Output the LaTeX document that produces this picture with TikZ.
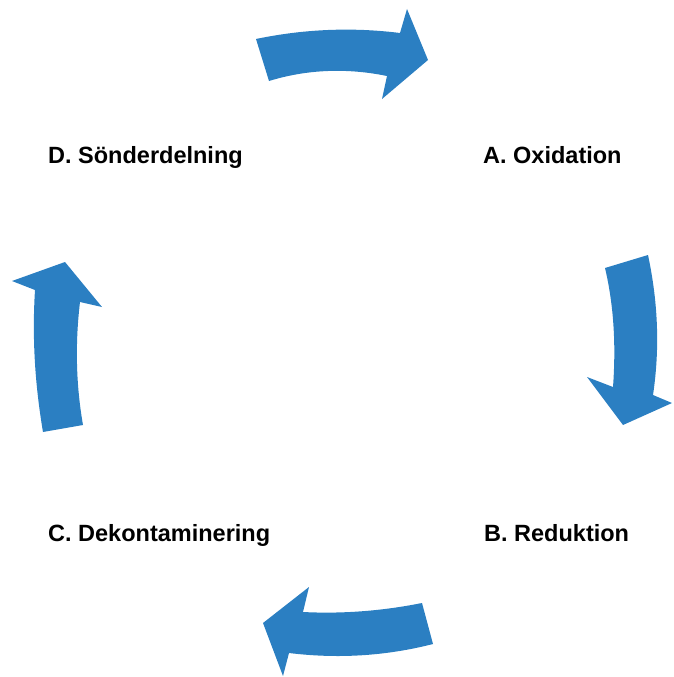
\documentclass[tikz,border=0pt]{standalone}
\usepackage{fontspec}
\setmainfont{Liberation Sans}
\usetikzlibrary{positioning}
\definecolor{cblue}{HTML}{2B7FC2}
\tikzset{
  every picture/.style={x=1pt, y=-1pt},
  stage/.style={font=\bfseries\fontsize{23.5}{28}\selectfont, anchor=base west, inner sep=0pt},
  cyclearrow/.style={fill=cblue, draw=none},
}
\begin{document}
\begin{tikzpicture}
  \useasboundingbox (0,0) rectangle (673,677);

  % stages
  \node[stage] (oxi) at (483,163) {A. Oxidation};
  \node[stage] (red) at (484,541) {B. Reduktion};
  \node[stage] (dek) at (48,541) {C. Dekontaminering};
  \node[stage] (son) at (48,163) {D. Sönderdelning};

  % top arrow, D to A
  \fill[cyclearrow] (256,39) .. controls (304,29) and (352,27) .. (400,33) -- (407,9) -- (428,60)
    -- (382,99) -- (387,76) .. controls (348,68) and (308,69) .. (269,81) -- cycle;
  % right arrow, A to B
  \fill[cyclearrow] (605,268) -- (648,255) .. controls (658,302) and (660,348) .. (653,395) -- (672,403)
    -- (623,425) -- (587,377) -- (613,387) .. controls (616,346) and (614,306) .. cycle;
  % bottom arrow, B to C
  \fill[cyclearrow] (422,603) .. controls (382,611) and (342,614) .. (303,612) -- (309,587) -- (263,623)
    -- (283,676) -- (289,653) .. controls (338,659) and (386,656) .. (433,644) -- cycle;
  % left arrow, C to D
  \fill[cyclearrow] (43,432) -- (83,425) .. controls (76,385) and (75,344) .. (80,302) -- (102,307)
    -- (65,262) -- (12,281) -- (35,290) .. controls (32,338) and (35,385) .. cycle;
\end{tikzpicture}
\end{document}
